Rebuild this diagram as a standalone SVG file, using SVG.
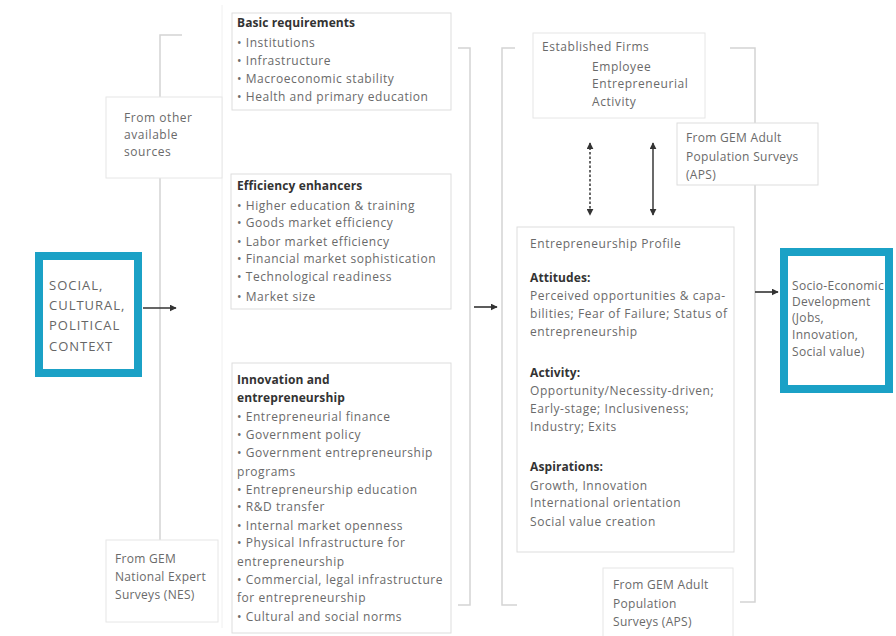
<svg xmlns="http://www.w3.org/2000/svg" width="896" height="636" viewBox="0 0 896 636">
<defs>
<marker id="ah" viewBox="0 0 10 10" refX="9" refY="5" markerWidth="7" markerHeight="7" orient="auto-start-reverse" markerUnits="userSpaceOnUse">
<path d="M0,0 L10,5 L0,10 z" fill="#333"/>
</marker>
</defs>
<style>
text{font-family:"Open Sans","Liberation Sans",sans-serif;font-size:12px;fill:#6a6a6a;letter-spacing:0.55px}
.b{font-weight:bold;fill:#333;letter-spacing:0.1px}
.box{fill:#fff;stroke:#ddd;stroke-width:1}
.src{fill:#fff;stroke:#e6e6e6;stroke-width:1}
.br{fill:none;stroke:#d4d4d4;stroke-width:1.5}
.hl{fill:#fff;stroke:#1ba1c6;stroke-width:8}
.big{font-size:13px;letter-spacing:1px;fill:#666}
.sm{letter-spacing:0.3px}
.arr{stroke:#333;stroke-width:1.6;fill:none;marker-end:url(#ah)}
.dbl{stroke:#444;stroke-width:1.6;fill:none;marker-start:url(#ah);marker-end:url(#ah)}
</style>
<rect width="896" height="636" fill="#fff"/>
<g id="connectors">
<line x1="222" y1="5" x2="222" y2="628" stroke="#f0f0f0" stroke-width="1"/>
<polyline class="br" points="182,35 160,35 160,540"/>
<polyline class="br" points="458,48 470,48 470,605 458,605"/>
<polyline class="br" points="515,48 502,48 502,605 517,605"/>
<polyline class="br" points="730,48 755,48 755,602 740,602"/>
<line class="arr" x1="143" y1="308" x2="176" y2="308"/>
<line class="arr" x1="474" y1="307" x2="497" y2="307"/>
<line class="arr" x1="755" y1="292" x2="778" y2="292"/>
<line class="dbl" x1="590" y1="143" x2="590" y2="215" stroke-dasharray="2.5,2"/>
<line class="dbl" x1="653" y1="143" x2="653" y2="215"/>
</g>
<g id="src-other">
<rect class="src" x="106" y="97" width="116" height="81"/>
<text x="124" y="122">From other</text>
<text x="124" y="139">available</text>
<text x="124" y="156">sources</text>
</g>
<g id="src-nes">
<rect class="src" x="106" y="540" width="112" height="82"/>
<text class="sm" x="115" y="563">From GEM</text>
<text class="sm" x="115" y="581">National Expert</text>
<text class="sm" x="115" y="599">Surveys (NES)</text>
</g>
<g id="social">
<rect class="hl" x="39" y="256" width="99" height="117"/>
<text class="big" x="49" y="290">SOCIAL,</text>
<text class="big" x="49" y="310">CULTURAL,</text>
<text class="big" x="49" y="330">POLITICAL</text>
<text class="big" x="49" y="351">CONTEXT</text>
</g>
<g id="basic">
<rect class="box" x="232" y="13" width="219" height="97"/>
<text class="b" x="237" y="27">Basic requirements</text>
<text x="237" y="47">• Institutions</text>
<text x="237" y="65">• Infrastructure</text>
<text x="237" y="83">• Macroeconomic stability</text>
<text x="237" y="101">• Health and primary education</text>
</g>
<g id="efficiency">
<rect class="box" x="231" y="174" width="220" height="135"/>
<text class="b" x="237" y="190">Efficiency enhancers</text>
<text x="237" y="210">• Higher education &amp; training</text>
<text x="237" y="227">• Goods market efficiency</text>
<text x="237" y="246">• Labor market efficiency</text>
<text x="237" y="263">• Financial market sophistication</text>
<text x="237" y="281">• Technological readiness</text>
<text x="237" y="301">• Market size</text>
</g>
<g id="innovation">
<rect class="box" x="232" y="363" width="219" height="270"/>
<text class="b" x="237" y="384">Innovation and</text>
<text class="b" x="237" y="402">entrepreneurship</text>
<text x="237" y="421">• Entrepreneurial finance</text>
<text x="237" y="439">• Government  policy</text>
<text x="237" y="457">• Government  entrepreneurship</text>
<text x="237" y="476">programs</text>
<text x="237" y="494">• Entrepreneurship education</text>
<text x="237" y="511">• R&amp;D transfer</text>
<text x="237" y="530">• Internal market openness</text>
<text x="237" y="547">• Physical  Infrastructure for</text>
<text x="237" y="566">entrepreneurship</text>
<text x="237" y="584">• Commercial, legal infrastructure</text>
<text x="237" y="602">for entrepreneurship</text>
<text x="237" y="621">• Cultural and  social norms</text>
</g>
<g id="established">
<rect class="src" x="533" y="33" width="172" height="85"/>
<text x="542" y="51">Established Firms</text>
<text x="592" y="71">Employee</text>
<text x="592" y="88">Entrepreneurial</text>
<text x="592" y="106">Activity</text>
</g>
<g id="aps-top">
<rect class="box" x="677" y="123" width="141" height="62"/>
<text class="sm" x="686" y="142">From GEM  Adult</text>
<text class="sm" x="686" y="161">Population Surveys</text>
<text class="sm" x="686" y="179">(APS)</text>
</g>
<g id="profile">
<rect class="box" x="517" y="227" width="217" height="325"/>
<text x="530" y="248">Entrepreneurship Profile</text>
<text class="b" x="530" y="282">Attitudes:</text>
<text x="530" y="300">Perceived opportunities &amp; capa-</text>
<text x="530" y="318">bilities; Fear of Failure; Status of</text>
<text x="530" y="336">entrepreneurship</text>
<text class="b" x="530" y="377">Activity:</text>
<text x="530" y="395">Opportunity/Necessity-driven;</text>
<text x="530" y="413">Early-stage; Inclusiveness;</text>
<text x="530" y="431">Industry; Exits</text>
<text class="b" x="530" y="471">Aspirations:</text>
<text x="530" y="490">Growth, Innovation</text>
<text x="530" y="507">International orientation</text>
<text x="530" y="526">Social value creation</text>
</g>
<g id="aps-bottom">
<rect class="src" x="603" y="568" width="130" height="72"/>
<text class="sm" x="613" y="589">From GEM Adult</text>
<text class="sm" x="613" y="608">Population</text>
<text class="sm" x="613" y="626">Surveys (APS)</text>
</g>
<g id="socio">
<rect class="hl" x="784" y="252" width="105" height="137"/>
<text class="sm" x="792" y="290">Socio-Economic</text>
<text class="sm" x="792" y="306">Development</text>
<text class="sm" x="792" y="322">(Jobs,</text>
<text class="sm" x="792" y="339">Innovation,</text>
<text class="sm" x="792" y="356">Social value)</text>
</g>
</svg>
